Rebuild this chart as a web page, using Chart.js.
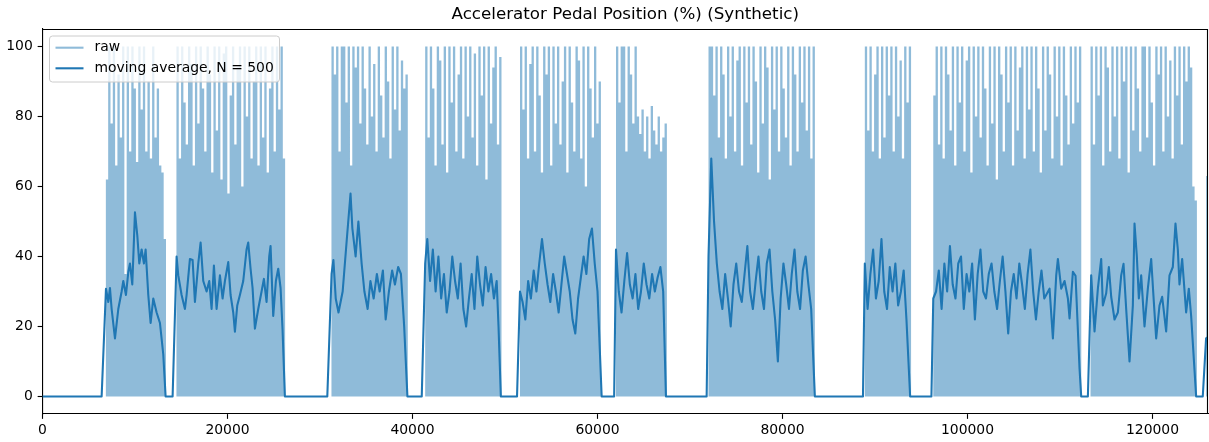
<!DOCTYPE html>
<html>
<head>
<meta charset="utf-8">
<script src="https://cdn.jsdelivr.net/npm/chart.js@4.4.0/dist/chart.umd.min.js"></script>
<style>
  html, body { margin: 0; padding: 0; background: #fff; }
  canvas { display: block; }
</style>
</head>
<body>
<canvas id="pedalChart" width="1209" height="442"></canvas>
<script>
// Accelerator pedal chart - raw signal plus moving average

const chartTitle = 'Accelerator Pedal Position (%) (Synthetic)';
const xTicks = [0, 20000, 40000, 60000, 80000, 100000, 120000];
const yTicks = [0, 20, 40, 60, 80, 100];
const xMax = 126000;

// raw signal: per-segment column peaks, one value every rawStep samples
const rawStep = 250;
const segStart = [6850, 14480, 31240, 41370, 51620, 62000, 72000, 88900, 96300, 113300, 125800];
const rawSeg1 = [62, 100, 78, 100, 66, 92, 74, 100, 35, 100, 70, 100, 88, 67, 100, 82, 100, 70, 90, 68, 100, 74, 88, 66, 64, 45];
const rawSeg2 = [100, 68, 100, 84, 72, 100, 95, 66, 100, 78, 100, 88, 70, 100, 92, 64, 100, 76, 100, 62,
                 98, 100, 58, 86, 100, 72, 94, 100, 60, 100, 80, 100, 68, 90, 100, 66, 100, 74, 100, 64,
                 88, 100, 70, 100, 82, 100, 68];
const rawSeg3 = [100, 92, 100, 70, 100, 100, 84, 100, 66, 100, 94, 100, 78, 100, 88, 72, 100, 80, 95, 70,
                 100, 86, 74, 100, 90, 68, 100, 82, 100, 76, 96, 88, 92];
const rawSeg4 = [100, 74, 100, 88, 66, 100, 96, 72, 100, 64, 100, 84, 100, 70, 92, 100, 68, 100, 80, 100,
                 74, 98, 66, 100, 86, 100, 62, 100, 78, 94, 100, 72, 97];
const rawSeg5 = [100, 82, 100, 68, 95, 100, 70, 100, 86, 64, 100, 92, 100, 66, 100, 78, 100, 72, 90, 100,
                 64, 100, 84, 70, 100, 96, 68, 100, 60, 100, 88, 74, 100, 78, 90];
const rawSeg6 = [100, 84, 100, 100, 70, 100, 92, 78, 100, 80, 75, 82, 70, 80, 68, 83, 76, 72, 80, 70, 74, 78];
const rawSeg7 = [100, 100, 86, 100, 74, 100, 92, 68, 100, 80, 100, 70, 96, 100, 66, 100, 84, 100, 72, 100,
                 90, 64, 100, 78, 100, 94, 62, 100, 82, 100, 70, 100, 88, 74, 100, 66, 100, 92, 70, 100,
                 84, 100, 76, 100, 68, 100];
const rawSeg8 = [100, 76, 100, 70, 92, 100, 68, 100, 74, 100, 86, 100, 70, 100, 80, 96, 68, 100, 84, 100];
const rawSeg9 = [86, 100, 72, 100, 68, 100, 92, 76, 100, 66, 100, 84, 100, 70, 96, 100, 64, 100, 80, 100,
                 74, 100, 88, 66, 100, 78, 100, 62, 100, 92, 70, 100, 84, 100, 66, 100, 76, 94, 100, 68,
                 100, 82, 100, 70, 100, 88, 64, 100, 76, 100, 92, 68, 100, 80, 100, 66, 100, 86, 72, 100,
                 78, 100, 84, 100];
const rawSeg10 = [100, 72, 100, 86, 100, 66, 100, 94, 70, 100, 80, 100, 68, 100, 90, 100, 64, 100, 76, 100,
                  88, 70, 100, 100, 74, 100, 84, 66, 100, 92, 100, 70, 100, 80, 96, 68, 100, 86, 100, 72,
                  100, 90, 100, 94, 60, 56];
const rawSeg11 = [63];
const rawSegs = [rawSeg1, rawSeg2, rawSeg3, rawSeg4, rawSeg5, rawSeg6, rawSeg7, rawSeg8, rawSeg9, rawSeg10, rawSeg11];

// moving average (N = 500)
const maX = [
  0, 6393,
  6862, 7114, 7294, 7474, 7834, 8195, 8555, 8735, 9023, 9275, 9455, 9707, 9996, 10248, 10464, 10716, 10968, 11148, 11436, 11689, 11976, 12337, 12697, 13057, 13309, 14066,
  14498, 14678, 15038, 15399, 15579, 15939, 16227, 16479, 16839, 17092, 17380, 17740, 18028, 18280, 18532, 18821, 19181, 19469, 19721, 20081, 20333, 20621, 20802, 21054, 21342, 21702, 22062, 22242, 22495, 22711, 22963, 23323, 23683, 23935, 24223, 24511, 24656, 24944, 25232, 25484, 25737, 25953, 26205, 30790,
  31250, 31450, 31700, 32000, 32450, 32900, 33300, 33500, 33850, 34150, 34500, 34800, 35150, 35450, 35800, 36150, 36450, 36800, 37100, 37450, 37800, 38100, 38450, 38750, 39100, 39450, 41000,
  41370, 41600, 41900, 42200, 42500, 42800, 43100, 43400, 43700, 44000, 44300, 44600, 44900, 45200, 45500, 45800, 46100, 46400, 46700, 47000, 47300, 47600, 47900, 48200, 48500, 48800, 49100, 49300, 49550, 51300,
  51620, 51900, 52200, 52500, 52800, 53100, 53400, 53700, 54000, 54300, 54600, 54900, 55200, 55500, 55800, 56100, 56400, 56700, 57000, 57300, 57600, 57900, 58200, 58500, 58800, 59100, 59400, 59700, 60000, 60450, 61800,
  62000, 62300, 62600, 62900, 63200, 63500, 63800, 64100, 64400, 64700, 65000, 65300, 65600, 65900, 66200, 66500, 66800, 67100, 67400, 71800,
  72000, 72300, 72600, 72900, 73200, 73500, 73800, 74100, 74400, 74700, 75000, 75300, 75600, 75900, 76200, 76500, 76800, 77100, 77400, 77700, 78000, 78300, 78600, 78900, 79200, 79500, 79800, 80100, 80400, 80700, 81000, 81300, 81600, 81900, 82200, 82500, 82800, 83100, 83500, 88700,
  88900, 89200, 89500, 89800, 90100, 90400, 90700, 91000, 91300, 91600, 91900, 92200, 92500, 92800, 93100, 93400, 93800, 96100,
  96300, 96600, 96900, 97200, 97500, 97800, 98100, 98400, 98700, 99000, 99300, 99600, 99900, 100200, 100500, 100800, 101100, 101400, 101700, 102000, 102300, 102600, 102900, 103200, 103500, 103800, 104100, 104400, 104700, 105000, 105300, 105600, 105900, 106200, 106500, 106800, 107100, 107400, 107700, 108000, 108300, 108870, 109232, 109592, 109772, 110132, 110493, 110853, 111033, 111393, 111680, 112112, 112293, 113013,
  113373, 113733, 114094, 114454, 114634, 114994, 115282, 115534, 115895, 116255, 116615, 116867, 117155, 117515, 117875, 118056, 118308, 118524, 118776, 119136, 119496, 119857, 120109, 120397, 120757, 121045, 121477, 121837, 122197, 122485, 122738, 122918, 123206, 123638, 123926, 124178, 124720, 125434,
  125794, 126000
];
const maY = [
  0, 0,
  30.8, 27, 31, 25, 16.6, 25, 30, 33, 29, 35.5, 38, 32, 52.6, 46, 38, 42, 38, 42, 29, 21, 28, 24, 21, 12, 0, 0,
  40, 34.6, 29, 25, 29, 39.3, 39, 27, 38, 44, 33, 30, 33, 25, 37.4, 25, 34.6, 28, 33, 38.4, 29, 24, 18.5, 26, 29, 33, 42, 44, 36.5, 31, 19.4, 25, 30, 33.6, 27, 40, 43, 23, 33, 36.5, 31, 19, 0, 0,
  35, 39, 28, 24, 30, 45, 58, 48, 40, 50, 38, 30, 25, 33, 28, 35, 30, 36, 22, 30, 36, 32, 37, 35, 20, 0, 0,
  38, 45, 33, 42, 30, 40, 28, 35, 24, 30, 40, 33, 28, 38, 25, 20, 28, 35, 25, 40, 32, 26, 37, 30, 35, 28, 33, 20, 0, 0,
  30, 27, 22, 33, 28, 36, 30, 38, 45, 38, 32, 27, 35, 30, 24, 32, 40, 35, 30, 22, 18, 28, 34, 40, 35, 45, 48, 38, 30, 0, 0,
  42, 30, 24, 33, 41, 32, 28, 35, 25, 30, 38, 32, 28, 35, 30, 34, 37, 30, 0, 0,
  40, 68, 50, 38, 30, 25, 35, 28, 20, 32, 38, 30, 27, 35, 43, 30, 25, 33, 40, 30, 25, 38, 42, 30, 22, 10, 28, 38, 32, 25, 35, 42, 30, 25, 36, 40, 32, 25, 0, 0,
  38, 25, 35, 42, 28, 33, 45, 30, 25, 37, 30, 38, 26, 30, 36, 22, 0, 0,
  28, 30, 36, 25, 38, 30, 43, 32, 28, 38, 40, 25, 35, 30, 38, 22, 35, 42, 30, 28, 35, 38, 30, 25, 33, 40, 30, 18, 30, 35, 28, 38, 32, 25, 35, 42, 30, 22, 30, 36, 28, 30.8, 16.6, 34.6, 39.3, 30.8, 33, 28, 22.3, 35.6, 34.5, 8, 0, 0,
  34.6, 18.6, 30.8, 39.3, 26, 29.5, 37, 28.5, 22, 24, 34.6, 37.9, 25, 10, 26, 49.4, 40, 28, 34.6, 20, 30.8, 39.3, 28.5, 16.6, 26, 28.5, 18.6, 34.6, 37, 49.4, 42, 32, 39.3, 24, 30.8, 23, 0, 0,
  16.6, 17
];

// build point lists for the library: each raw column is a flat top between two edges
const rawPts = [{ x: 0, y: 0 }];
rawSegs.forEach((peaks, s) => {
  const x0 = segStart[s];
  rawPts.push({ x: x0, y: 0 });
  peaks.forEach((p, i) => {
    rawPts.push({ x: x0 + i * rawStep, y: p });
    rawPts.push({ x: x0 + (i + 1) * rawStep, y: p });
  });
  rawPts.push({ x: x0 + peaks.length * rawStep, y: 0 });
});
const maPts = maX.map((x, i) => ({ x: x, y: maY[i] }));

const C0 = '#1f77b4';
const C0_half = 'rgba(31,119,180,0.5)';
const tickFont = { family: 'DejaVu Sans', size: 13.9 };
const PT = 100 / 72; // matplotlib points -> px at 100 dpi

// title, top/right spines and matplotlib-style legend
const decorPlugin = {
  id: 'decor',
  afterDraw(chart) {
    const ctx = chart.ctx;
    const a = chart.chartArea;
    ctx.save();
    ctx.strokeStyle = '#000';
    ctx.lineWidth = 0.8 * PT;
    ctx.beginPath();
    ctx.moveTo(a.left, a.top + 0.5);
    ctx.lineTo(a.right, a.top + 0.5);
    ctx.moveTo(a.right - 0.5, a.top);
    ctx.lineTo(a.right - 0.5, a.bottom);
    ctx.stroke();

    ctx.fillStyle = '#000';
    ctx.font = '16.7px "DejaVu Sans"';
    ctx.textAlign = 'center';
    ctx.textBaseline = 'middle';
    ctx.fillText(chartTitle, (a.left + a.right) / 2, 14.5);

    // legend box
    const bx = 49.5, by = 36, bw = 230, bh = 46, r = 3;
    ctx.beginPath();
    ctx.moveTo(bx + r, by);
    ctx.arcTo(bx + bw, by, bx + bw, by + bh, r);
    ctx.arcTo(bx + bw, by + bh, bx, by + bh, r);
    ctx.arcTo(bx, by + bh, bx, by, r);
    ctx.arcTo(bx, by, bx + bw, by, r);
    ctx.closePath();
    ctx.fillStyle = 'rgba(255,255,255,0.8)';
    ctx.fill();
    ctx.strokeStyle = '#cccccc';
    ctx.lineWidth = 1;
    ctx.stroke();

    const entries = [
      { label: 'raw', color: C0_half, y: 47.7 },
      { label: 'moving average, N = 500', color: C0, y: 68.3 }
    ];
    entries.forEach(e => {
      ctx.strokeStyle = e.color;
      ctx.lineWidth = 1.5 * PT;
      ctx.beginPath();
      ctx.moveTo(55.5, e.y);
      ctx.lineTo(83.5, e.y);
      ctx.stroke();
      ctx.fillStyle = '#000';
      ctx.font = '13.9px "DejaVu Sans"';
      ctx.textAlign = 'left';
      ctx.textBaseline = 'middle';
      ctx.fillText(e.label, 94.5, e.y);
    });
    ctx.restore();
  }
};

new Chart(document.getElementById('pedalChart'), {
  type: 'line',
  data: {
    datasets: [
      {
        label: 'raw',
        data: rawPts,
        borderWidth: 0,
        borderColor: C0_half,
        backgroundColor: C0_half,
        fill: 'origin',
        pointRadius: 0,
        order: 2
      },
      {
        label: 'moving average, N = 500',
        data: maPts,
        borderColor: C0,
        borderWidth: 1.5 * PT,
        borderJoinStyle: 'round',
        tension: 0,
        fill: false,
        pointRadius: 0,
        order: 1
      }
    ]
  },
  options: {
    responsive: false,
    devicePixelRatio: 1,
    animation: false,
    parsing: false,
    layout: { padding: { top: 29, right: 1, left: 0, bottom: 0 } },
    plugins: {
      legend: { display: false },
      title: { display: false },
      tooltip: { enabled: false }
    },
    scales: {
      x: {
        type: 'linear',
        min: 0,
        max: xMax,
        afterBuildTicks: axis => { axis.ticks = xTicks.map(v => ({ value: v })); },
        afterFit: axis => { axis.height = 28; },
        ticks: {
          font: tickFont,
          color: '#000',
          padding: 3.5 * PT - 2,
          maxRotation: 0,
          autoSkip: false,
          callback: v => String(v)
        },
        grid: { display: true, drawOnChartArea: false, drawTicks: true, tickLength: 3.5 * PT, tickColor: '#000', tickWidth: 0.8 * PT },
        border: { display: true, color: '#000', width: 0.8 * PT }
      },
      y: {
        min: -5,
        max: 105,
        afterBuildTicks: axis => { axis.ticks = yTicks.map(v => ({ value: v })); },
        afterFit: axis => { axis.width = 42.5; },
        ticks: { font: tickFont, color: '#000', padding: 3.5 * PT, callback: v => String(v) },
        grid: { display: true, drawOnChartArea: false, drawTicks: true, tickLength: 3.5 * PT, tickColor: '#000', tickWidth: 0.8 * PT },
        border: { display: true, color: '#000', width: 0.8 * PT }
      }
    }
  },
  plugins: [decorPlugin]
});
</script>
</body>
</html>
